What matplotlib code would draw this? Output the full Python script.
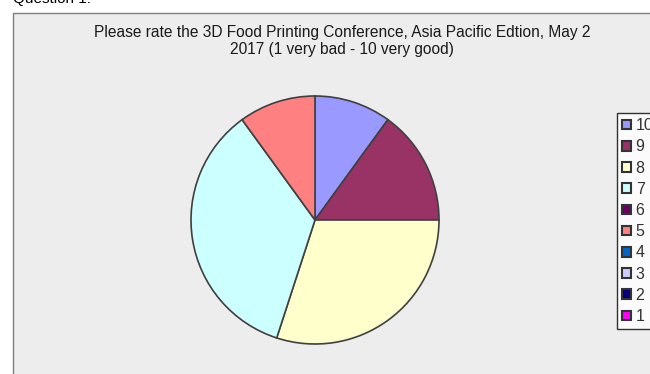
import matplotlib.pyplot as plt
from matplotlib.patches import Rectangle, Patch

# ratings as listed in the legend, with their response shares
ratings = ['10', '9', '8', '7', '6', '5', '4', '3', '2', '1']
shares = [10, 15, 30, 35, 0, 10, 0, 0, 0, 0]
colors = ['#9999FF', '#993366', '#FFFFCC', '#CCFFFF', '#660066',
          '#FF8080', '#0066CC', '#CCCCFF', '#000080', '#FF00FF']

title = 'Please rate the 3D Food Printing Conference, Asia Pacific Edtion, May 2\n2017 (1 very bad - 10 very good)'

plt.rcParams['font.family'] = ['Liberation Sans', 'DejaVu Sans']

W, H = 650, 374
fig = plt.figure(figsize=(W / 100, H / 100), dpi=100)
fig.patch.set_facecolor('white')

# grey chart panel
fig.patches.append(Rectangle((12.5 / W, -0.1), 1.0, 1 - 13.5 / H + 0.1,
                             transform=fig.transFigure, facecolor='#EDEDED',
                             edgecolor='#7F7F7F', linewidth=1.0, zorder=-5))

fig.text(13 / W, 1 - 3 / H, 'Question 1:', fontsize=11, va='baseline', ha='left')
fig.text(342 / W, 1 - 25 / H, title, fontsize=11.2, ha='center', va='top',
         color='#1a1a1a', linespacing=1.2)

# pie with nonzero ratings only, clockwise from 12 o'clock
cx, cy, r = 315, 220, 124
ax = fig.add_axes([(cx - r) / W, (H - cy - r) / H, 2 * r / W, 2 * r / H])
ax.set_zorder(2)
vals = [s for s in shares if s > 0]
cols = [c for s, c in zip(shares, colors) if s > 0]
wedges, _ = ax.pie(vals, colors=cols, startangle=90, counterclock=False,
                   wedgeprops=dict(edgecolor='#404040', linewidth=1.2))
for w in wedges:
    w.set_clip_on(False)
ax.set_xlim(-1, 1)
ax.set_ylim(-1, 1)
ax.set_aspect('equal')
ax.axis('off')

handles = [Patch(facecolor=c, edgecolor='#333333', linewidth=1.5) for c in colors]
leg = fig.legend(handles, ratings, loc='upper left',
                 bbox_to_anchor=(617 / W, 1 - 113 / H), frameon=True,
                 fancybox=False, fontsize=11.5, handlelength=0.55,
                 handleheight=0.55, handletextpad=0.3, labelspacing=0.39,
                 borderpad=0.32, borderaxespad=0)
leg.get_frame().set_edgecolor('#000000')
leg.get_frame().set_linewidth(1.0)
leg.set_zorder(3)
for t in leg.get_texts():
    t.set_color('#333333')

fig.savefig('out.png', dpi=100)
